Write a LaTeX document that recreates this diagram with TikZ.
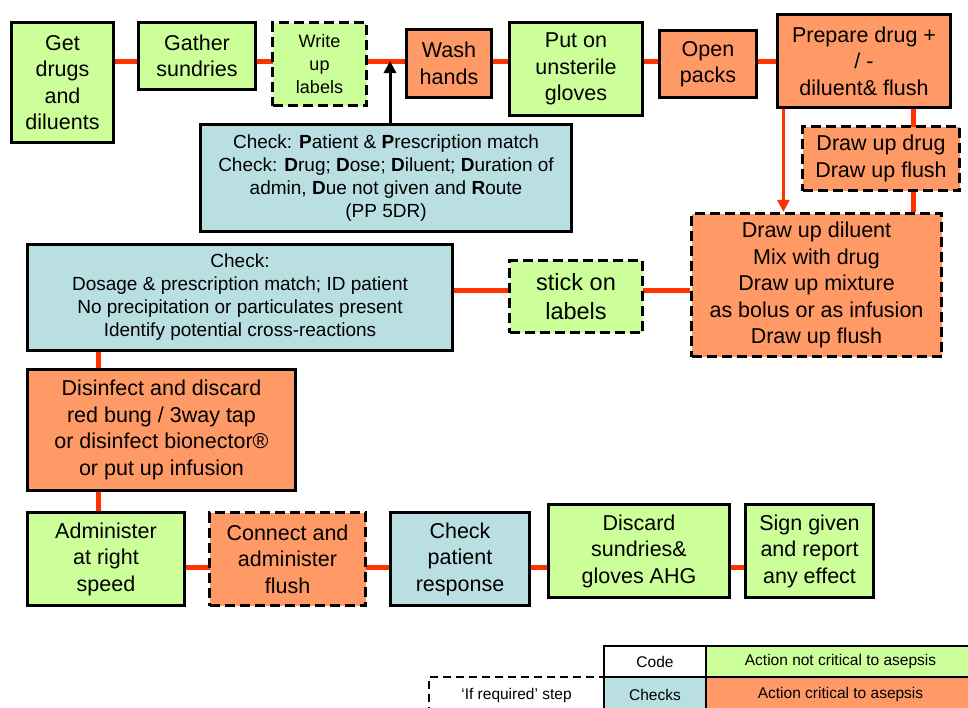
\documentclass[tikz,border=0pt]{standalone}
\usepackage{fontspec}
\setmainfont{Liberation Sans}
\usetikzlibrary{arrows.meta,backgrounds}

\definecolor{actgreen}{RGB}{204,255,153}
\definecolor{actorange}{RGB}{255,153,102}
\definecolor{checkblue}{RGB}{185,223,226}
\definecolor{linkred}{RGB}{255,51,0}

\newcommand{\bigtxt}{\fontsize{21.5}{26.5}\selectfont}
\newcommand{\midtxt}{\fontsize{19}{23}\selectfont}
\newcommand{\smalltxt}{\fontsize{18}{23}\selectfont}
\newcommand{\keytxt}{\fontsize{15.5}{18}\selectfont}

\begin{document}
\begin{tikzpicture}[
  x=1pt, y=-1pt,
  box/.style={draw, line width=3.2pt, align=center, inner sep=2pt, font=\bigtxt},
  safe/.style={box, fill=actgreen},
  crit/.style={box, fill=actorange},
  chk/.style={box, fill=checkblue},
  optional/.style={dash pattern=on 10pt off 5pt},
  link/.style={draw=linkred, line width=5pt},
  arr/.style={-{Triangle[length=12pt,width=12pt]}, line width=3pt},
  legcell/.style={draw, line width=2pt, font=\keytxt, inner sep=0pt}
]
\useasboundingbox (0,0) rectangle (968,707);

% top row
\node[safe, minimum width=102pt, minimum height=120pt] (get) at (62.5,82.5) {Get\\drugs\\and\\diluents};
\node[safe, minimum width=117pt, minimum height=67pt] (gather) at (197,56) {Gather\\sundries};
\node[safe, optional, font=\smalltxt, minimum width=94pt, minimum height=83pt] (write) at (319.5,64) {Write\\up\\labels};
\node[crit, minimum width=85pt, minimum height=68pt] (wash) at (449,63.5) {Wash\\hands};
\node[safe, minimum width=133pt, minimum height=93pt] (gloves) at (576,69) {Put on\\unsterile\\gloves};
\node[crit, minimum width=97pt, minimum height=67pt] (open) at (708,64) {Open\\packs};
\node[crit, minimum width=173pt, minimum height=93pt] (prep) at (864,61) {Prepare drug +\\/ -\\diluent\& flush};
\node[crit, optional, minimum width=157pt, minimum height=64pt] (drawdrug) at (881,158.5) {Draw up drug\\Draw up flush};

\node[chk, font=\midtxt, minimum width=371pt, minimum height=107pt] (pp5dr) at (386,178)
  {Check: \textbf{P}atient \& \textbf{P}rescription match\\
   Check: \textbf{D}rug; \textbf{D}ose; \textbf{D}iluent; \textbf{D}uration of\\
   admin, \textbf{D}ue not given and \textbf{R}oute\\(PP 5DR)};

% middle row
\node[crit, optional, minimum width=250pt, minimum height=143pt] (diluent) at (816.5,285)
  {Draw up diluent\\Mix with drug\\Draw up mixture\\as bolus or as infusion\\Draw up flush};
\node[safe, optional, font={\fontsize{23.5}{29}\selectfont}, minimum width=133pt, minimum height=72pt] (stick) at (576,296.5) {stick on\\labels};
\node[chk, font=\midtxt, minimum width=425pt, minimum height=106pt] (checkdose) at (240,297.5)
  {Check:\\Dosage \& prescription match; ID patient\\No precipitation or particulates present\\Identify potential cross-reactions};
\node[crit, minimum width=268pt, minimum height=121pt] (disinfect) at (161.5,430)
  {Disinfect and discard\\red bung / 3way tap\\or disinfect bionector®\\or put up infusion};

% bottom row
\node[safe, minimum width=157pt, minimum height=93pt] (admin) at (106,559) {Administer\\at right\\speed};
\node[crit, optional, minimum width=156pt, minimum height=93pt] (connect) at (287.5,559) {Connect and\\administer\\flush};
\node[chk, minimum width=139pt, minimum height=93pt] (response) at (460,559) {Check\\patient\\response};
\node[safe, minimum width=181pt, minimum height=93pt] (discard) at (639,551) {Discard\\sundries\&\\gloves AHG};
\node[safe, minimum width=128pt, minimum height=93pt] (sign) at (809.5,551) {Sign given\\and report\\any effect};

% connectors
\coordinate (toprow) at (0,61);
\coordinate (midrow) at (0,290);
\coordinate (botrow) at (0,567);
\coordinate (leftcol) at (98,0);

\begin{scope}[on background layer]
\draw[link] (get.east |- toprow) -- (prep.west |- toprow);
\draw[link] ([xshift=-38.5pt]prep.south east) -- ([xshift=-38.5pt]prep.south east |- diluent.north);
\draw[link] (checkdose.east |- midrow) -- (diluent.west |- midrow);
\draw[link] (leftcol |- checkdose.south) -- (leftcol |- admin.north);
\draw[link] (admin.east |- botrow) -- (sign.west |- botrow);
\end{scope}

\draw[arr] ([xshift=4pt]pp5dr.north) -- ([xshift=4pt]pp5dr.north |- toprow);
\draw[arr, color=linkred] ([xshift=7.5pt]prep.south west) -- ([xshift=7.5pt]prep.south west |- diluent.north);

% key
\node[draw, line width=1.5pt, dash pattern=on 8pt off 5pt, font=\keytxt, minimum width=175pt, minimum height=36pt] (ifreq) at (516.5,695) {‘If required’ step};
\node[legcell, fill=white, minimum width=102pt, minimum height=31pt] (code) at (655,661.5) {Code};
\node[legcell, fill=checkblue, minimum width=102pt, minimum height=35pt] (checks) at (655,694.5) {Checks};
\node[legcell, fill=actgreen, minimum width=269pt, minimum height=31pt] (nocrit) at (840.5,661.5) {Action not critical to asepsis};
\node[legcell, fill=actorange, minimum width=269pt, minimum height=35pt] (critkey) at (840.5,694.5) {Action critical to asepsis};
\end{tikzpicture}
\end{document}
